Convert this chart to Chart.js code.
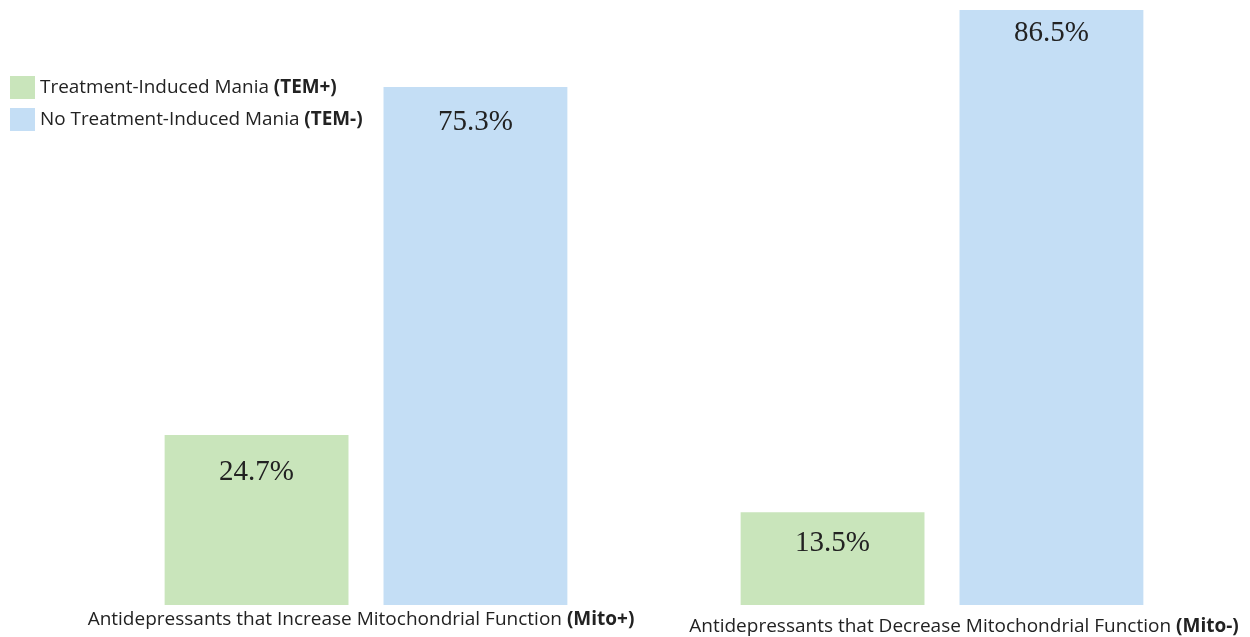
<!DOCTYPE html>
<html>
<head>
<meta charset="utf-8">
<script src="https://cdn.jsdelivr.net/npm/chart.js@4.4.1/dist/chart.umd.min.js"></script>
<style>
  html, body { margin: 0; padding: 0; background: #fff; }
  #wrap { width: 1250px; height: 637px; position: relative; }
</style>
</head>
<body>
<div id="wrap"><canvas id="myBarChart"></canvas></div>
<script>
// kateqoriyalar (adi mətn + qalın hissə)
var categoryText = ["Antidepressants that Increase Mitochondrial Function ", "Antidepressants that Decrease Mitochondrial Function "];
var categoryTag = ["(Mito+)", "(Mito-)"];
var seriesText = ["Treatment-Induced Mania ", "No Treatment-Induced Mania "];
var seriesTag = ["(TEM+)", "(TEM-)"];
var temPlus = [24.7, 13.5];
var temMinus = [75.3, 86.5];
var seriesColors = ["#c9e5bb", "#c4def5"];

var sansFont = '"Open Sans", "Noto Sans", sans-serif';

function drawMixed(ctx, x, y, parts, size, align) {
    // parts: [[text, bold], ...]
    var total = 0;
    parts.forEach(function(p) {
        ctx.font = (p[1] ? "bold " : "") + size + "px " + sansFont;
        total += ctx.measureText(p[0]).width;
    });
    var cx = align === "center" ? x - total / 2 : x;
    ctx.textAlign = "left";
    ctx.textBaseline = "middle";
    parts.forEach(function(p) {
        ctx.font = (p[1] ? "bold " : "") + size + "px " + sansFont;
        ctx.fillText(p[0], cx, y);
        cx += ctx.measureText(p[0]).width;
    });
}

var labelsPlugin = {
    id: "labelsPlugin",
    afterDatasetsDraw: function(chart) {
        var ctx = chart.ctx;
        ctx.save();
        ctx.fillStyle = "#222";
        // bar values (yazının barın üstündən məsafəsi)
        var valOffset = [[37, 31], [35, 23]];
        chart.data.datasets.forEach(function(ds, i) {
            chart.getDatasetMeta(i).data.forEach(function(bar, j) {
                ctx.font = '29px "Liberation Serif", "Times New Roman", serif';
                ctx.textAlign = "center";
                ctx.textBaseline = "middle";
                ctx.fillText(ds.data[j].toFixed(1) + "%", bar.x, bar.y + valOffset[i][j]);
            });
        });
        // category labels under bars
        var xs = chart.scales.x;
        var offs = [15, 22];
        categoryText.forEach(function(t, i) {
            drawMixed(ctx, xs.getPixelForValue(i) + (i === 1 ? 22 : -5), xs.bottom + offs[i], [[t, false], [categoryTag[i], true]], 19, "center");
        });
        // legend
        var legY = [88, 120];
        seriesText.forEach(function(t, i) {
            ctx.fillStyle = seriesColors[i];
            ctx.fillRect(10, legY[i] - 12, 25, 23);
            ctx.fillStyle = "#222";
            drawMixed(ctx, 40, legY[i], [[t, false], [seriesTag[i], true]], 18.9, "left");
        });
        ctx.restore();
    }
};

var ctxBar = document.getElementById("myBarChart");
new Chart(ctxBar, {
    type: "bar",
    data: {
        labels: categoryText,
        datasets: [{
            label: seriesText[0] + seriesTag[0],
            data: temPlus,
            backgroundColor: seriesColors[0]
        }, {
            label: seriesText[1] + seriesTag[1],
            data: temMinus,
            backgroundColor: seriesColors[1]
        }]
    },
    options: {
        responsive: true,
        maintainAspectRatio: false,
        animation: false,
        layout: { padding: { left: 78, right: 20, top: 10, bottom: 32 } },
        datasets: { bar: { categoryPercentage: 0.76, barPercentage: 0.84 } },
        plugins: {
            legend: { display: false },
            tooltip: { enabled: false }
        },
        scales: {
            x: { display: false },
            y: { display: false, min: 0, max: 86.5 }
        }
    },
    plugins: [labelsPlugin]
});
</script>
</body>
</html>
